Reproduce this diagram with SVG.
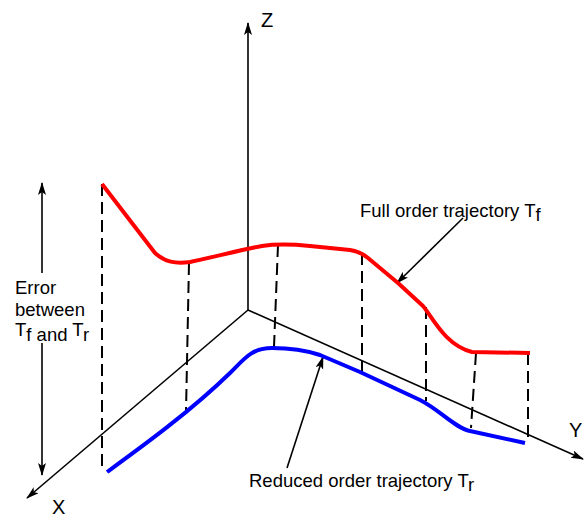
<svg xmlns="http://www.w3.org/2000/svg" width="584" height="517" viewBox="0 0 584 517">
<style>
text{font-family:"Liberation Sans",Arial,sans-serif;font-size:18.5px;fill:#000}
.ax{stroke:#000;stroke-width:1.6;fill:none}
.dash{stroke:#000;stroke-width:2;stroke-dasharray:12,6;fill:none}
.traj{fill:none;stroke-width:4;stroke-linejoin:round;stroke-linecap:butt}
</style>
<defs>
<marker id="ah" markerUnits="userSpaceOnUse" markerWidth="14" markerHeight="10" refX="12" refY="4" orient="auto">
<path d="M0,0 L13,4 L0,8 L3,4 Z" fill="#000"/>
</marker>
</defs>
<g id="connectors">
<line class="ax" x1="248" y1="310" x2="248" y2="23" marker-end="url(#ah)"/>
<line class="ax" x1="248" y1="310" x2="27" y2="498" marker-end="url(#ah)"/>
<line class="ax" x1="248" y1="310" x2="583" y2="459" marker-end="url(#ah)"/>
<line class="dash" x1="102" y1="184" x2="102" y2="470"/>
<line class="dash" x1="189" y1="263" x2="186" y2="412"/>
<line class="dash" x1="278" y1="245" x2="274" y2="347"/>
<line class="dash" x1="362" y1="253" x2="362" y2="372"/>
<line class="dash" x1="426" y1="307" x2="426" y2="401"/>
<line class="dash" x1="476" y1="353" x2="471" y2="428"/>
<line class="dash" x1="528" y1="353" x2="528" y2="443"/>
<line class="ax" x1="463" y1="218" x2="397" y2="283" marker-end="url(#ah)"/>
<line class="ax" x1="287" y1="468" x2="323" y2="357" marker-end="url(#ah)"/>
<line class="ax" x1="42" y1="273" x2="42" y2="183" marker-end="url(#ah)"/>
<line class="ax" x1="42" y1="343" x2="42" y2="475" marker-end="url(#ah)"/>
</g>
<g id="full-trajectory">
<path class="traj" stroke="#ff0000" d="M102,184 L155,253 C165,262 175,264 190,262 C210,258 240,250 262,246 C275,244 290,244 310,246 L350,250 C358,251 362,253 368,258 L398,283 L423,306 C433,318 445,345 472,352 L530,353"/>
</g>
<g id="reduced-trajectory">
<path class="traj" stroke="#0000ff" d="M107,472 C140,448 190,412 230,373 C245,358 252,348 272,348 C290,348 305,350 320,355 L360,372 L420,400 C440,410 455,428 470,431 L525,443"/>
</g>
<g id="labels">
<text x="261" y="27" style="font-size:20px">Z</text>
<text x="52" y="514" style="font-size:20px">X</text>
<text x="569" y="437" style="font-size:20px">Y</text>
<text x="360" y="217">Full order trajectory T<tspan dy="4">f</tspan></text>
<text x="249" y="487">Reduced order trajectory T<tspan dy="4">r</tspan></text>
<text x="15" y="294">Error</text>
<text x="15" y="316">between</text>
<text x="15" y="336">T<tspan dy="5">f and </tspan><tspan dy="-5">T</tspan><tspan dy="5">r</tspan></text>
</g>
</svg>
